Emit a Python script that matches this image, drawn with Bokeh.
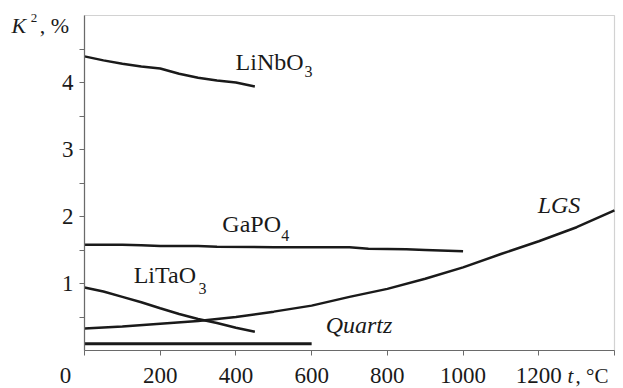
from bokeh.plotting import figure
from bokeh.models import Range1d, FixedTicker, Label, LinearAxis, BoxAnnotation
from bokeh.embed import file_html
from bokeh.resources import INLINE

# ---- data ----
linbo3_t = [0, 50, 100, 150, 200, 250, 300, 350, 400, 450]
linbo3_k = [4.39, 4.33, 4.28, 4.24, 4.21, 4.13, 4.07, 4.03, 4.00, 3.94]

gapo4_t = [0, 100, 150, 200, 300, 350, 500, 700, 750, 850, 900, 1000]
gapo4_k = [1.58, 1.58, 1.57, 1.56, 1.56, 1.55, 1.54, 1.54, 1.52, 1.51, 1.50, 1.48]

litao3_t = [0, 50, 100, 150, 200, 250, 300, 350, 400, 450]
litao3_k = [0.94, 0.88, 0.80, 0.72, 0.63, 0.545, 0.47, 0.41, 0.34, 0.28]

lgs_t = [0, 100, 200, 300, 400, 500, 600, 700, 800, 900, 1000, 1100, 1200, 1300, 1400]
lgs_k = [0.33, 0.36, 0.40, 0.44, 0.50, 0.58, 0.67, 0.80, 0.92, 1.07, 1.24, 1.44, 1.63, 1.84, 2.09]

quartz_t = [0, 600]
quartz_k = [0.10, 0.10]

x_ticks = [0, 200, 400, 600, 800, 1000, 1200, 1400]
x_tick_labels = {0: "", 200: "200", 400: "400", 600: "600", 800: "800",
                 1000: "1000", 1200: "1200", 1400: ""}
y_major = [1, 2, 3, 4]
y_minor = [0.5, 1.5, 2.5, 3.5, 4.5]

X_MIN, X_MAX = 0, 1400
Y_MIN, Y_MAX = 0, 5

SERIF = "Liberation Serif"
AX = "#6b6b6b"
INK = "#1a1a1a"

W, H = 623, 388
FL, FR, FT, FB = 84, 614, 15, 350          # frame box in pixels
sx = (FR - FL) / (X_MAX - X_MIN)
sy = (FB - FT) / (Y_MAX - Y_MIN)
xr = Range1d(X_MIN - FL / sx, X_MAX + (W - FR) / sx)
yr = Range1d(Y_MIN - (H - FB) / sy, Y_MAX + FT / sy)

p = figure(width=W, height=H, x_range=xr, y_range=yr,
           output_backend="svg", toolbar_location=None,
           x_axis_type=None, y_axis_type=None, min_border=0)
p.grid.visible = False
p.outline_line_color = None
p.background_fill_color = "white"
p.border_fill_color = "white"

xa = LinearAxis(fixed_location=0, bounds=(X_MIN, X_MAX))
xa.ticker = FixedTicker(ticks=x_ticks)
xa.major_label_overrides = x_tick_labels
xa.major_label_text_font = SERIF
xa.major_label_text_font_size = "23px"
xa.major_label_text_color = INK
xa.major_label_standoff = 12
xa.major_tick_out = 5
xa.major_tick_in = 0
xa.minor_tick_out = 0
xa.minor_tick_in = 0
xa.axis_line_color = AX
xa.major_tick_line_color = AX
xa.axis_line_width = 1.2
p.add_layout(xa, "below")

ya = LinearAxis(fixed_location=0, bounds=(Y_MIN, Y_MAX))
ya.ticker = FixedTicker(ticks=y_major, minor_ticks=y_minor)
ya.major_tick_out = 5
ya.major_tick_in = 0
ya.minor_tick_out = 5
ya.minor_tick_in = 0
ya.axis_line_color = AX
ya.major_tick_line_color = AX
ya.minor_tick_line_color = AX
ya.axis_line_width = 1.2
ya.major_label_standoff = 6
ya.major_label_text_font = SERIF
ya.major_label_text_font_size = "23px"
ya.major_label_text_color = INK
p.add_layout(ya, "left")

p.add_layout(BoxAnnotation(left=X_MIN, right=X_MAX, bottom=Y_MIN, top=Y_MAX,
                           fill_alpha=0, line_color=AX, line_width=1.2))

for t, k, w in [(linbo3_t, linbo3_k, 2.5), (gapo4_t, gapo4_k, 2.5), (litao3_t, litao3_k, 2.5),
                (lgs_t, lgs_k, 2.5), (quartz_t, quartz_k, 3)]:
    p.line(t, k, line_color=INK, line_width=w)


def lab(x, y, text, size=24, style="normal", align="left"):
    p.add_layout(Label(x=x, y=y, text=text, text_font=SERIF, text_font_size=f"{size}px",
                       text_font_style=style, text_color=INK, text_align=align,
                       text_baseline="alphabetic"))


lab(-50, -0.368, "0", size=23, align="center")
lab(1276, -0.379, "t", size=21, style="italic")
lab(1297, -0.379, ", \u00b0C", size=21)

lab(-193, 4.855, "K", size=22, style="italic")
lab(-142, 4.961, "2", size=13)
lab(-118, 4.855, ", %", size=22)

lab(399, 4.307, "LiNbO")
lab(581, 4.166, "3", size=16)
lab(364, 1.894, "GaPO")
lab(520, 1.718, "4", size=16)
lab(130, 1.124, "LiTaO")
lab(301, 0.922, "3", size=16)
lab(1197, 2.178, "LGS", style="italic")
lab(637, 0.378, "Quartz", style="italic")

open("out.html", "w").write(file_html(p, INLINE))
